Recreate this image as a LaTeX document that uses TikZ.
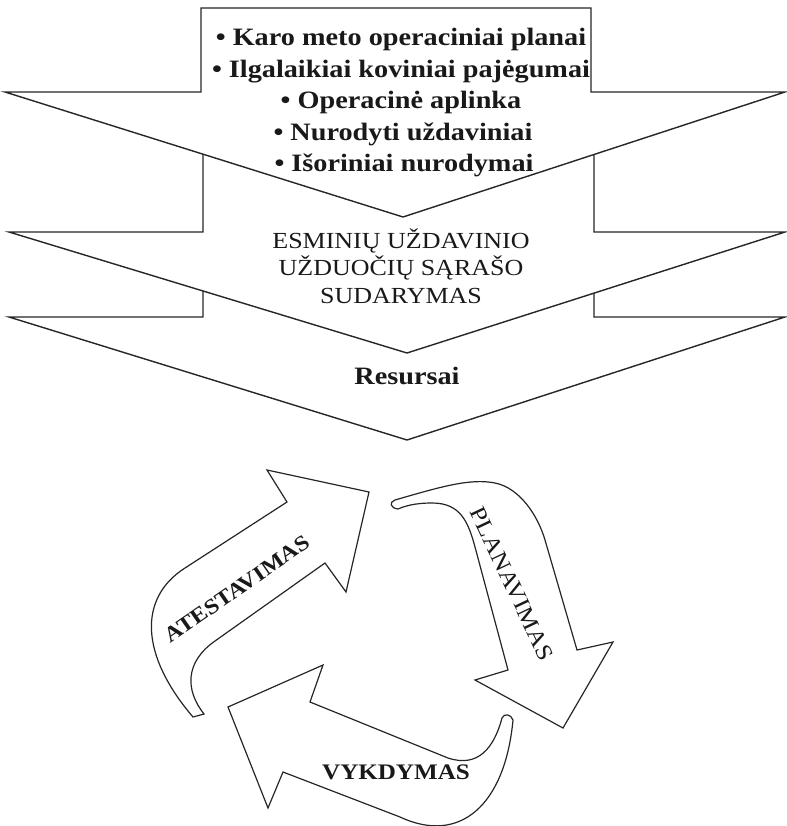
\documentclass[tikz,border=0pt]{standalone}
\usepackage{fontspec}
\setmainfont{Liberation Serif}[FakeStretch=1.13]
\begin{document}
\begin{tikzpicture}[x=1pt,y=-1pt,line join=miter,
  chev/.style={draw=black!85,fill=white,line width=1.4pt},
  cyc/.style={draw=black!85,fill=white,line width=1.2pt},
  lab/.style={inner sep=0pt,anchor=base,text=black!90,font=\fontsize{25}{30}\selectfont\bfseries},
  labr/.style={inner sep=0pt,anchor=base,text=black!90,font=\fontsize{23}{27}\selectfont},
  cyclab/.style={inner sep=0pt,text=black!90}]
\useasboundingbox (0,0) rectangle (786,826);
% chevrons (bottom first)
\draw[chev] (203,285) -- (203,317) -- (9,317) -- (407,440) -- (785,317) -- (594,317) -- (594,285) -- cycle;
\draw[chev] (203,150) -- (203,232) -- (9,232) -- (407,353) -- (785,232) -- (594,232) -- (594,150) -- cycle;
\draw[chev] (201,8) -- (201,92) -- (5,92) -- (403,217) -- (785,92) -- (591,92) -- (591,8) -- cycle;
% texts of chevrons
\node[lab] (l1) at (401,46) {• Karo meto operaciniai planai};
\node[lab] (l2) at (401,77.5) {• Ilgalaikiai koviniai pajėgumai};
\node[lab] (l3) at (401,109) {• Operacinė aplinka};
\node[lab] (l4) at (403,140.5) {• Nurodyti uždaviniai};
\node[lab] (l5) at (404,172) {• Išoriniai nurodymai};
\node[labr] (e1) at (401,248) {ESMINIŲ UŽDAVINIO};
\node[labr] (e2) at (401,275.5) {UŽDUOČIŲ SĄRAŠO};
\node[labr] (e3) at (401,303) {SUDARYMAS};
\node[lab] (res) at (407,384) {Resursai};
% cycle arrows
% ATESTAVIMAS (left, pointing up-right)
\draw[cyc] (193,717) .. controls (140,655) and (138,598) .. (185,568)
  -- (287,502) -- (267,470) -- (369,492) -- (346,592) -- (325,563)
  -- (215,641) .. controls (185,662) and (185,690) .. (204,714)
  -- cycle;
% PLANAVIMAS (right, pointing down)
\draw[cyc] (395,500) .. controls (440,487) and (470,478) .. (495,483)
  .. controls (520,488) and (538,516) .. (545,540)
  -- (577,650) -- (613,642) -- (563,728) -- (475,680) -- (508,670)
  -- (475,547) .. controls (468,521) and (460,503) .. (432,503)
  .. controls (415,503) and (405,506) .. (398,509)
  .. controls (390,508) and (389,502) .. (395,500) -- cycle;
% VYKDYMAS (bottom, pointing left)
\draw[cyc] (513,720) .. controls (505,805) and (460,845) .. (400,817)
  -- (283,772) -- (268,808) -- (228,707) -- (323,665) -- (310,702)
  -- (448,758) .. controls (478,768) and (494,748) .. (502,718)
  .. controls (504,713) and (511,714) .. (513,720) -- cycle;
\node[cyclab,rotate=34.7,font=\fontsize{21.5}{25}\selectfont\bfseries] (at) at (237,589) {ATESTAVIMAS};
\node[cyclab,rotate=-64.7,font=\fontsize{23}{27}\selectfont] (pl) at (512,584) {PLANAVIMAS};
\node[cyclab,font=\fontsize{22.2}{26}\selectfont\bfseries] (vy) at (396,772) {VYKDYMAS};
\end{tikzpicture}
\end{document}
